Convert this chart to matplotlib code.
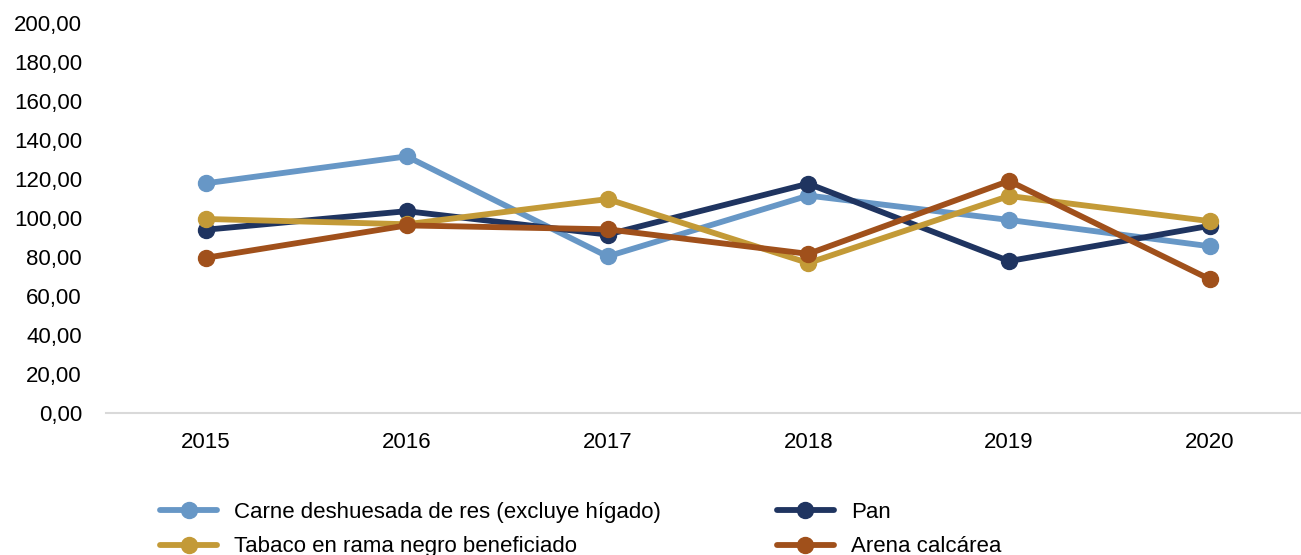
import matplotlib.pyplot as plt
from matplotlib.ticker import FuncFormatter

plt.rcParams['font.family'] = ['Liberation Sans', 'DejaVu Sans']

years = ['2015', '2016', '2017', '2018', '2019', '2020']
carne = [117.8, 131.6, 80.3, 111.5, 99.0, 85.5]
pan = [94.0, 103.5, 91.5, 117.6, 77.9, 96.0]
tabaco = [99.5, 96.8, 109.7, 76.9, 111.3, 98.4]
arena = [79.6, 96.2, 94.2, 81.6, 119.0, 68.6]

series = [
    ('Carne deshuesada de res (excluye hígado)', carne, '#6797C6'),
    ('Pan', pan, '#1F3460'),
    ('Tabaco en rama negro beneficiado', tabaco, '#C39A37'),
    ('Arena calcárea', arena, '#A0501B'),
]

fig = plt.figure(figsize=(13.01, 5.55), dpi=100)
ax = fig.add_axes([105.6 / 1301, 1 - 413 / 555, 1204.6 / 1301, 390 / 555])

x = list(range(len(years)))
lines = {}
for name, vals, col in series:
    ln, = ax.plot(x, vals, color=col, lw=4.2, marker='o', ms=11.5,
                  solid_capstyle='round', label=name)
    lines[name] = ln

ax.set_xlim(-0.5, len(years) - 0.5)
ax.set_ylim(0, 200)
ax.set_yticks(range(0, 201, 20))
ax.yaxis.set_major_formatter(FuncFormatter(lambda v, p: f'{v:.2f}'.replace('.', ',')))
ax.set_xticks(x)
ax.set_xticklabels(years)
ax.tick_params(axis='both', length=0, labelsize=16, colors='black')
ax.tick_params(axis='y', pad=17)
ax.tick_params(axis='x', pad=14)
for s in ['top', 'right', 'left']:
    ax.spines[s].set_visible(False)
ax.spines['bottom'].set_color('#D9D9D9')
ax.spines['bottom'].set_linewidth(1.5)

order = [series[0][0], series[2][0], series[1][0], series[3][0]]
fig.legend([lines[n] for n in order], order, ncol=2, frameon=False,
           loc='upper left', bbox_to_anchor=(160 / 1301, 1 - 502 / 555),
           fontsize=16, handlelength=2.57, handletextpad=0.77,
           columnspacing=5.2, labelspacing=0.6, borderpad=0, borderaxespad=0)

fig.savefig('out.png', dpi=100)
